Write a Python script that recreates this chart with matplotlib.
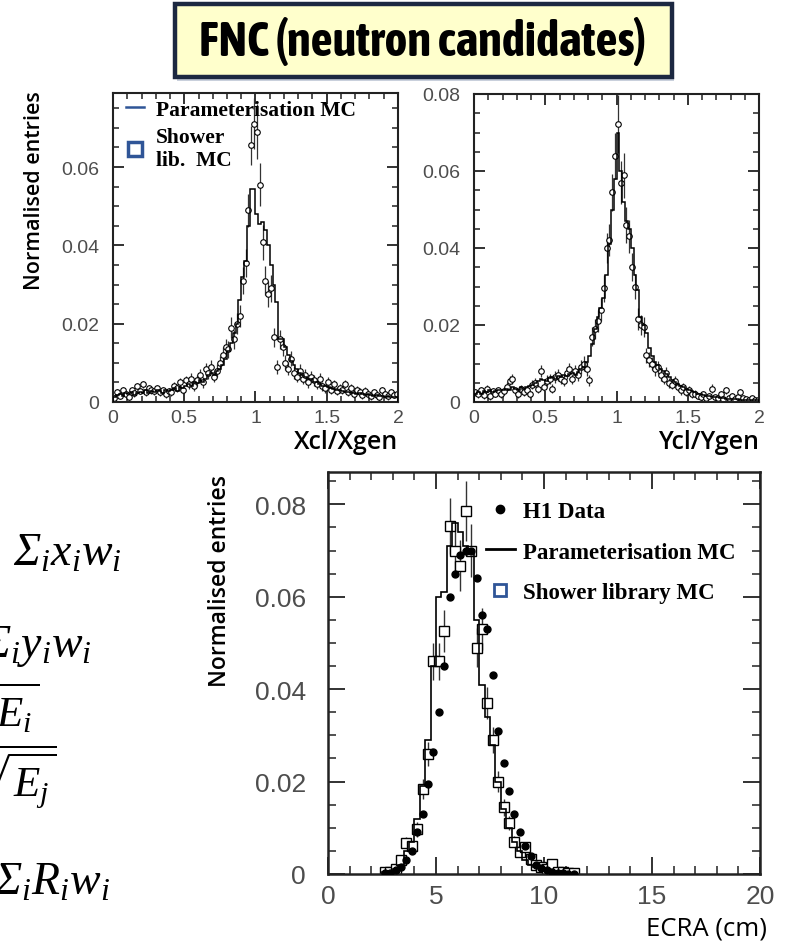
import numpy as np
import matplotlib
matplotlib.use('Agg')
import matplotlib.pyplot as plt
from matplotlib import font_manager
from matplotlib.patches import Rectangle
from matplotlib.lines import Line2D
from matplotlib.ticker import MultipleLocator, FuncFormatter

W, H = 789, 945

# --- upper panels: reconstructed / generated position, 0.02 wide bins ---
ratio_edges = np.linspace(0, 2, 101)

x_param = [0.0012, 0.0018, 0.0020, 0.0015, 0.0022, 0.0020, 0.0025, 0.0018, 0.0022, 0.0026,
           0.0024, 0.0030, 0.0022, 0.0028, 0.0025, 0.0030, 0.0027, 0.0024, 0.0030, 0.0028,
           0.0030, 0.0035, 0.0028, 0.0038, 0.0035, 0.0040, 0.0045, 0.0042, 0.0050, 0.0048,
           0.0055, 0.0052, 0.0060, 0.0070, 0.0075, 0.0068, 0.0080, 0.0085, 0.0095, 0.0110,
           0.0130, 0.0150, 0.0175, 0.0200, 0.0260, 0.0320, 0.0360, 0.0450, 0.0545, 0.0545,
           0.0480, 0.0455, 0.0460, 0.0440, 0.0400, 0.0350, 0.0300, 0.0255, 0.0160, 0.0160,
           0.0140, 0.0120, 0.0105, 0.0095, 0.0085, 0.0075, 0.0070, 0.0065, 0.0060, 0.0058,
           0.0052, 0.0050, 0.0045, 0.0042, 0.0040, 0.0038, 0.0035, 0.0032, 0.0030, 0.0030,
           0.0028, 0.0025, 0.0026, 0.0022, 0.0024, 0.0020, 0.0022, 0.0020, 0.0018, 0.0020,
           0.0018, 0.0016, 0.0018, 0.0015, 0.0016, 0.0014, 0.0015, 0.0013, 0.0014, 0.0012]
x_shower = [0.0010, 0.0025, 0.0015, 0.0030, 0.0020, 0.0012, 0.0030, 0.0022, 0.0040, 0.0028,
            0.0045, 0.0025, 0.0035, 0.0030, 0.0028, 0.0035, 0.0025, 0.0030, 0.0020, 0.0028,
            0.0025, 0.0040, 0.0035, 0.0050, 0.0030, 0.0055, 0.0045, 0.0060, 0.0040, 0.0055,
            0.0070, 0.0050, 0.0085, 0.0075, 0.0090, 0.0065, 0.0080, 0.0100, 0.0120, 0.0140,
            0.0135, 0.0190, 0.0160, 0.0200, 0.0220, 0.0310, 0.0355, 0.0490, 0.0655, 0.0710,
            0.0690, 0.0555, 0.0408, 0.0310, 0.0275, 0.0290, 0.0165, 0.0090, 0.0160, 0.0140,
            0.0100, 0.0085, 0.0110, 0.0075, 0.0065, 0.0080, 0.0060, 0.0070, 0.0050, 0.0065,
            0.0055, 0.0045, 0.0060, 0.0040, 0.0035, 0.0050, 0.0030, 0.0045, 0.0028, 0.0035,
            0.0030, 0.0045, 0.0025, 0.0035, 0.0020, 0.0030, 0.0025, 0.0018, 0.0028, 0.0020,
            0.0015, 0.0025, 0.0018, 0.0012, 0.0030, 0.0020, 0.0015, 0.0025, 0.0018, 0.0020]
x_err = [0.0008, 0.0008, 0.0008, 0.0008, 0.0008, 0.0008, 0.0008, 0.0008, 0.0008, 0.0008,
         0.0009, 0.0009, 0.0009, 0.0009, 0.0009, 0.0009, 0.0009, 0.0009, 0.0009, 0.0009,
         0.0010, 0.0010, 0.0010, 0.0012, 0.0010, 0.0012, 0.0012, 0.0013, 0.0012, 0.0013,
         0.0014, 0.0013, 0.0015, 0.0015, 0.0016, 0.0014, 0.0016, 0.0018, 0.0020, 0.0022,
         0.0022, 0.0026, 0.0024, 0.0027, 0.0028, 0.0034, 0.0036, 0.0042, 0.0050, 0.0065,
         0.0070, 0.0055, 0.0045, 0.0036, 0.0033, 0.0035, 0.0025, 0.0018, 0.0024, 0.0022,
         0.0019, 0.0017, 0.0019, 0.0016, 0.0015, 0.0016, 0.0015, 0.0015, 0.0013, 0.0015,
         0.0013, 0.0012, 0.0014, 0.0012, 0.0011, 0.0013, 0.0010, 0.0012, 0.0010, 0.0011,
         0.0010, 0.0010, 0.0010, 0.0010, 0.0010, 0.0010, 0.0010, 0.0010, 0.0010, 0.0010,
         0.0009, 0.0009, 0.0009, 0.0009, 0.0009, 0.0009, 0.0009, 0.0009, 0.0009, 0.0009]

y_param = [0.0020, 0.0025, 0.0022, 0.0028, 0.0025, 0.0030, 0.0026, 0.0028, 0.0032, 0.0030,
           0.0030, 0.0035, 0.0032, 0.0040, 0.0035, 0.0032, 0.0038, 0.0035, 0.0040, 0.0042,
           0.0045, 0.0050, 0.0055, 0.0060, 0.0058, 0.0055, 0.0062, 0.0065, 0.0060, 0.0068,
           0.0065, 0.0070, 0.0068, 0.0072, 0.0075, 0.0070, 0.0078, 0.0085, 0.0092, 0.0105,
           0.0120, 0.0150, 0.0190, 0.0220, 0.0245, 0.0270, 0.0330, 0.0410, 0.0500, 0.0580,
           0.0700, 0.0600, 0.0520, 0.0470, 0.0450, 0.0400, 0.0330, 0.0290, 0.0220, 0.0200,
           0.0180, 0.0140, 0.0120, 0.0105, 0.0095, 0.0085, 0.0080, 0.0072, 0.0065, 0.0058,
           0.0052, 0.0048, 0.0042, 0.0040, 0.0035, 0.0032, 0.0028, 0.0025, 0.0022, 0.0020,
           0.0018, 0.0016, 0.0015, 0.0014, 0.0012, 0.0012, 0.0010, 0.0010, 0.0009, 0.0008,
           0.0008, 0.0007, 0.0007, 0.0006, 0.0006, 0.0005, 0.0005, 0.0005, 0.0004, 0.0004]
y_shower = [0.0025, 0.0020, 0.0030, 0.0018, 0.0035, 0.0015, 0.0028, 0.0022, 0.0030, 0.0020,
            0.0028, 0.0040, 0.0055, 0.0060, 0.0030, 0.0020, 0.0035, 0.0025, 0.0030, 0.0020,
            0.0045, 0.0050, 0.0035, 0.0080, 0.0040, 0.0055, 0.0060, 0.0035, 0.0065, 0.0070,
            0.0060, 0.0055, 0.0075, 0.0085, 0.0060, 0.0080, 0.0070, 0.0090, 0.0100, 0.0085,
            0.0056, 0.0170, 0.0190, 0.0210, 0.0240, 0.0295, 0.0400, 0.0420, 0.0545, 0.0640,
            0.0723, 0.0570, 0.0589, 0.0460, 0.0430, 0.0350, 0.0300, 0.0216, 0.0200, 0.0195,
            0.0121, 0.0110, 0.0100, 0.0085, 0.0090, 0.0070, 0.0060, 0.0075, 0.0050, 0.0045,
            0.0055, 0.0040, 0.0030, 0.0038, 0.0025, 0.0030, 0.0020, 0.0022, 0.0015, 0.0012,
            0.0020, 0.0010, 0.0015, 0.0035, 0.0012, 0.0010, 0.0020, 0.0008, 0.0030, 0.0010,
            0.0015, 0.0008, 0.0012, 0.0025, 0.0010, 0.0008, 0.0005, 0.0010, 0.0006, 0.0005]
y_err = [0.0009, 0.0009, 0.0009, 0.0009, 0.0009, 0.0009, 0.0009, 0.0009, 0.0009, 0.0009,
         0.0010, 0.0011, 0.0012, 0.0012, 0.0010, 0.0009, 0.0010, 0.0010, 0.0010, 0.0009,
         0.0012, 0.0012, 0.0011, 0.0016, 0.0012, 0.0014, 0.0014, 0.0012, 0.0015, 0.0015,
         0.0014, 0.0014, 0.0016, 0.0017, 0.0014, 0.0016, 0.0015, 0.0018, 0.0019, 0.0018,
         0.0015, 0.0024, 0.0026, 0.0028, 0.0030, 0.0034, 0.0040, 0.0042, 0.0048, 0.0060,
         0.0075, 0.0055, 0.0058, 0.0046, 0.0042, 0.0036, 0.0032, 0.0028, 0.0026, 0.0026,
         0.0020, 0.0019, 0.0018, 0.0017, 0.0017, 0.0015, 0.0014, 0.0016, 0.0013, 0.0012,
         0.0013, 0.0012, 0.0011, 0.0012, 0.0010, 0.0011, 0.0009, 0.0010, 0.0008, 0.0007,
         0.0009, 0.0007, 0.0008, 0.0011, 0.0007, 0.0007, 0.0009, 0.0006, 0.0010, 0.0007,
         0.0008, 0.0006, 0.0007, 0.0009, 0.0006, 0.0006, 0.0005, 0.0006, 0.0005, 0.0005]

# --- lower panel: ECRA, 0.25 cm bins from 2.5 to 11.5 cm ---
ecra_edges = np.linspace(2.5, 11.5, 37)
ecra_param = [0.0005, 0.0005, 0.0010, 0.0020, 0.0050, 0.0070, 0.0120, 0.0190, 0.0290, 0.0450,
              0.0600, 0.0610, 0.0710, 0.0760, 0.0740, 0.0710, 0.0700, 0.0550, 0.0410, 0.0340,
              0.0280, 0.0200, 0.0140, 0.0100, 0.0070, 0.0050, 0.0030, 0.0020, 0.0015, 0.0010,
              0.0008, 0.0005, 0.0004, 0.0003, 0.0002, 0.0002]
ecra_data = [0.0002, 0.0003, 0.0008, 0.0015, 0.0030, 0.0050, 0.0090, 0.0130, 0.0195, 0.0265,
             0.0350, 0.0450, 0.0600, 0.0650, 0.0690, 0.0700, 0.0700, 0.0640, 0.0560, 0.0530,
             0.0430, 0.0310, 0.0240, 0.0180, 0.0130, 0.0090, 0.0060, 0.0040, 0.0020, 0.0012,
             0.0008, 0.0005, 0.0003, 0.0002, 0.0001, 0.0001]
ecra_shower = [0.0005, 0.0004, 0.0010, 0.0030, 0.0068, 0.0060, 0.0097, 0.0184, 0.0260, 0.0460,
               0.0460, 0.0526, 0.0753, 0.0700, 0.0667, 0.0785, 0.0700, 0.0490, 0.0530, 0.0370,
               0.0290, 0.0200, 0.0144, 0.0110, 0.0070, 0.0047, 0.0058, 0.0032, 0.0020, 0.0015,
               0.0010, 0.0022, 0.0005, 0.0004, 0.0002, 0.0002]
ecra_err = [0.0003, 0.0003, 0.0005, 0.0008, 0.0012, 0.0012, 0.0016, 0.0022, 0.0026, 0.0040,
            0.0040, 0.0045, 0.0060, 0.0058, 0.0055, 0.0065, 0.0058, 0.0042, 0.0045, 0.0034,
            0.0028, 0.0022, 0.0018, 0.0015, 0.0012, 0.0010, 0.0011, 0.0008, 0.0006, 0.0005,
            0.0004, 0.0007, 0.0003, 0.0003, 0.0002, 0.0002]

title_str = "FNC (neutron candidates)"
ylab = "Normalised entries"
legend_blue = '#2F5597'
tick_grey = '#4d4d4d'
frame_col = '#222222'

# Times-like italic maths for the formula fragments (capital Greek too)
plt.rcParams['mathtext.rm'] = 'Liberation Serif:italic'
plt.rcParams['mathtext.it'] = 'Liberation Serif:italic'
plt.rcParams['mathtext.bf'] = 'Liberation Serif:bold'
plt.rcParams['mathtext.fallback'] = 'stix'

fig = plt.figure(figsize=(W / 100, H / 100), dpi=100)


def px_axes(l, t, r, b):
    return fig.add_axes([l / W, 1 - b / H, (r - l) / W, (b - t) / H])


def style_axes(ax, big=False):
    for sp in ax.spines.values():
        sp.set_linewidth(1.8 if big else 1.5)
        sp.set_color(frame_col)
    fs = 19 if big else 14
    ax.tick_params(which='both', direction='in', top=True, right=True,
                   colors=frame_col, labelcolor=tick_grey)
    ax.tick_params(which='major', length=12 if big else 8, width=1.3, labelsize=fs)
    ax.tick_params(which='minor', length=6 if big else 4.5, width=1.1)
    ax.tick_params(axis='y', pad=16 if big else 10)
    ax.tick_params(axis='x', pad=7 if big else 5)
    for lab in ax.get_xticklabels() + ax.get_yticklabels():
        lab.set_fontfamily('Liberation Sans')
    ax.xaxis.set_major_formatter(FuncFormatter(lambda v, p: '%g' % v))
    ax.yaxis.set_major_formatter(FuncFormatter(lambda v, p: '%g' % round(v, 3)))


centers = 0.5 * (ratio_edges[1:] + ratio_edges[:-1])
mk = dict(fmt='o', ms=4, mfc='white', mec='black', mew=0.8,
          ecolor='#333333', elinewidth=0.9, capsize=0, zorder=2)
lab_kw = dict(family='Open Sans', weight='semibold', color='black')

# upper left
ax1 = px_axes(113, 94, 398, 403)
ax1.stairs(x_param, ratio_edges, color='black', lw=1.1, zorder=3)
ax1.errorbar(centers, x_shower, yerr=x_err, **mk)
ax1.set_xlim(0, 2)
ax1.set_ylim(0, 0.0789)
ax1.xaxis.set_major_locator(MultipleLocator(0.5))
ax1.xaxis.set_minor_locator(MultipleLocator(0.1))
ax1.yaxis.set_major_locator(MultipleLocator(0.02))
ax1.yaxis.set_minor_locator(MultipleLocator(0.005))
style_axes(ax1)
ax1.set_xlabel("Xcl/Xgen", loc='right', fontsize=18, **lab_kw)
ax1.xaxis.set_label_coords(1.0, -0.088)
ax1.set_ylabel(ylab, fontsize=15.5, **lab_kw)
ax1.yaxis.set_label_coords(-0.239, 0.686)
h1 = [Line2D([], [], color=legend_blue, lw=1.8),
      Line2D([], [], ls='none', marker='s', ms=10, mfc='white', mec=legend_blue, mew=2.5)]
ax1.legend(h1, ["Parameterisation MC", "Shower\nlib.  MC"], loc='upper left',
           bbox_to_anchor=(0.046, 0.978), frameon=False, borderpad=0, borderaxespad=0,
           handlelength=0.85, handletextpad=0.55, labelspacing=0.35,
           prop=dict(family='Liberation Serif', weight='bold', size=15.5))

# upper right
ax2 = px_axes(474, 95, 759, 403)
ax2.stairs(y_param, ratio_edges, color='black', lw=1.1, zorder=3)
ax2.errorbar(centers, y_shower, yerr=y_err, **mk)
ax2.set_xlim(0, 2)
ax2.set_ylim(0, 0.08)
ax2.xaxis.set_major_locator(MultipleLocator(0.5))
ax2.xaxis.set_minor_locator(MultipleLocator(0.1))
ax2.yaxis.set_major_locator(MultipleLocator(0.02))
ax2.yaxis.set_minor_locator(MultipleLocator(0.005))
style_axes(ax2)
ax2.set_xlabel("Ycl/Ygen", loc='right', fontsize=18, **lab_kw)
ax2.xaxis.set_label_coords(1.0, -0.088)

# lower panel
ecra_c = 0.5 * (ecra_edges[1:] + ecra_edges[:-1])
ax3 = px_axes(328, 473, 760, 875)
ax3.stairs(ecra_param, ecra_edges, color='black', lw=1.2, zorder=3)
ax3.errorbar(ecra_c, ecra_shower, yerr=ecra_err, fmt='s', ms=6.5, mfc='white',
             mec='black', mew=1.0, ecolor='#333333', elinewidth=1.0, capsize=0, zorder=2)
ax3.plot(ecra_c, ecra_data, 'o', ms=5, color='black', zorder=4)
ax3.set_xlim(0, 20)
ax3.set_ylim(0, 0.087)
ax3.xaxis.set_major_locator(MultipleLocator(5))
ax3.xaxis.set_minor_locator(MultipleLocator(1))
ax3.yaxis.set_major_locator(MultipleLocator(0.02))
ax3.yaxis.set_minor_locator(MultipleLocator(0.005))
style_axes(ax3, big=True)
ax3.set_xlabel("ECRA (cm)", loc='right', fontsize=18.5, family='Open Sans', color='black')
ax3.xaxis.set_label_coords(1.016, -0.103)
ax3.set_ylabel(ylab, fontsize=16.5, **lab_kw)
ax3.yaxis.set_label_coords(-0.222, 0.731)
h3 = [Line2D([], [], ls='none', marker='o', ms=6, color='black'),
      Line2D([], [], color='black', lw=2.0),
      Line2D([], [], ls='none', marker='s', ms=9, mfc='white', mec=legend_blue, mew=2.0)]
ax3.legend(h3, ["H1 Data", "Parameterisation MC", "Shower library MC"], loc='upper left',
           bbox_to_anchor=(0.366, 0.928), frameon=False, borderpad=0, borderaxespad=0,
           handlelength=1.25, handletextpad=0.35, labelspacing=0.85,
           prop=dict(family='Liberation Serif', weight='bold', size=16.5))

# formula fragments, cut off at the left edge as on the slide
fkw = dict(math_fontfamily='custom', color='black', ha='right', va='center')
fig.text(122 / W, 1 - 553 / H, r"$\Sigma_i x_i w_i$", fontsize=33, **fkw)
fig.text(92 / W, 1 - 647 / H, r"$\Sigma_i y_i w_i$", fontsize=33, **fkw)
fig.text(57 / W, 1 - 746 / H, r"$\dfrac{\sqrt{E_i}}{\Sigma_j\sqrt{E_j}}$", fontsize=31, **fkw)
fig.text(110 / W, 1 - 882 / H, r"$\Sigma_i R_i w_i$", fontsize=33, **fkw)

# title box with its faint shadow
fig.patches.append(Rectangle((177 / W, 1 - 82 / H), 497 / W, 74 / H, transform=fig.transFigure,
                             facecolor='#C9D0DC', edgecolor='none', zorder=1))
fig.patches.append(Rectangle((175 / W, 1 - 78 / H), 497 / W, 73 / H, transform=fig.transFigure,
                             facecolor='#FFFFCC', edgecolor='#1C2841', lw=3.2, zorder=2))

stretch_rank = {'ultra-condensed': 0, 'extra-condensed': 1, 'condensed': 2, 'semi-condensed': 3}


def title_rank(f):
    if 'Serif' in f.name or 'Mono' in f.name or f.style != 'normal':
        return None
    w = f.weight
    if isinstance(w, str):
        w = {'bold': 700, 'semibold': 600, 'demibold': 600}.get(w, 400)
    if w != 700:
        return None
    st = f.stretch if isinstance(f.stretch, str) else 'normal'
    if st in stretch_rank:
        return stretch_rank[st]
    if 'Narrow' in f.name or 'Condensed' in f.name:
        return 2
    return None


cands = [(title_rank(f), f.name, f.fname) for f in font_manager.fontManager.ttflist]
cands = sorted(c for c in cands if c[0] is not None)
if cands:
    title_fp = font_manager.FontProperties(fname=cands[0][2])
else:
    title_fp = font_manager.FontProperties(family='Roboto', weight='bold')

title = fig.text(423 / W, 1 - 42 / H, title_str, fontproperties=title_fp, ha='center',
                 va='center', color='black', zorder=3)
title.set_fontsize(44)
fig.canvas.draw()
bb = title.get_window_extent(fig.canvas.get_renderer())
if bb.width > 447:
    title.set_fontsize(44 * 447 / bb.width)

fig.savefig('out.png', dpi=100)
